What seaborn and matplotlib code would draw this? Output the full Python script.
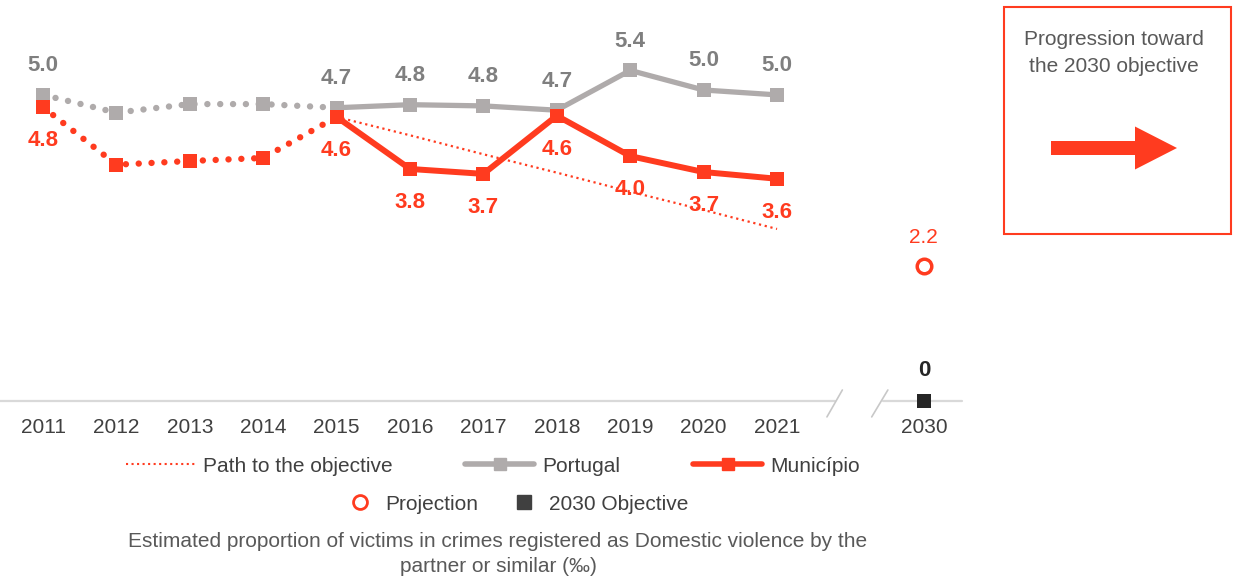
import numpy as np
import pandas as pd
import seaborn as sns
import matplotlib.pyplot as plt
from matplotlib.lines import Line2D
from matplotlib.patches import Rectangle, FancyArrow

# data
years = ['2011', '2012', '2013', '2014', '2015', '2016',
         '2017', '2018', '2019', '2020', '2021']
portugal = [5.0, 4.71, 4.85, 4.85, 4.79, 4.84, 4.82, 4.75, 5.4, 5.08, 5.0]
municipio = [4.8, 3.86, 3.92, 3.97, 4.64, 3.79, 3.71, 4.66, 4.0, 3.74, 3.63]
portugal_labels = ['5.0', '', '', '', '4.7', '4.8', '4.8', '4.7', '5.4', '5.0', '5.0']
municipio_labels = ['4.8', '', '', '', '4.6', '3.8', '3.7', '4.6', '4.0', '3.7', '3.6']
path_years = ['2015', '2016', '2017', '2018', '2019', '2020', '2021']
path_values = [4.64, 4.34, 4.03, 3.73, 3.42, 3.12, 2.81]
target_year = '2030'
projection = 2.2
objective = 0

RED = '#FF3B1F'
GRAY = '#AFABAB'
LABEL_GRAY = '#7F7F7F'
DARK = '#262626'
TEXT = '#404040'

sns.set_theme(style='white')
plt.rcParams['font.family'] = ['Liberation Sans', 'DejaVu Sans']

fig = plt.figure(figsize=(12.35, 5.79), dpi=100)
ax = fig.add_axes([0, 1 - 401 / 579, 962 / 1235, 401 / 579])

pos = {y: i for i, y in enumerate(years)}
pos[target_year] = len(years) + 1
x = np.array([pos[y] for y in years])
split = years.index('2015')

df = pd.DataFrame({'x': x, 'portugal': portugal, 'municipio': municipio})
dots = (0, (0.01, 2.0))

# Portugal: dotted until 2015, solid afterwards
sns.lineplot(data=df.iloc[:split + 1], x='x', y='portugal', ax=ax, color=GRAY,
             lw=4.6, linestyle=dots, dash_capstyle='round')
sns.lineplot(data=df.iloc[split:], x='x', y='portugal', ax=ax, color=GRAY, lw=3.8)
sns.scatterplot(data=df, x='x', y='portugal', ax=ax, color=GRAY, marker='s',
                s=95, linewidth=0, zorder=3)

# path to the objective
px = [pos[y] for y in path_years]
sns.lineplot(x=px, y=path_values, ax=ax, color=RED, lw=1.6, linestyle=':')

# Municipio
sns.lineplot(data=df.iloc[:split + 1], x='x', y='municipio', ax=ax, color=RED,
             lw=4.6, linestyle=dots, dash_capstyle='round')
sns.lineplot(data=df.iloc[split:], x='x', y='municipio', ax=ax, color=RED, lw=4.3)
sns.scatterplot(data=df, x='x', y='municipio', ax=ax, color=RED, marker='s',
                s=95, linewidth=0, zorder=4)

for xi, v, lab in zip(x, portugal, portugal_labels):
    if lab:
        ax.annotate(lab, (xi, v), xytext=(0, 21), textcoords='offset points',
                    ha='center', va='center', fontsize=16, fontweight='bold',
                    color=LABEL_GRAY)
for xi, v, lab in zip(x, municipio, municipio_labels):
    if lab:
        ax.annotate(lab, (xi, v), xytext=(0, -24), textcoords='offset points',
                    ha='center', va='center', fontsize=16, fontweight='bold',
                    color=RED)

# 2030 points
tx = pos[target_year]
ax.scatter([tx], [projection], marker='o', s=110, facecolor='white',
           edgecolor=RED, linewidth=2.5, zorder=5)
ax.annotate(f'{projection:.1f}', (tx, projection), xytext=(0, 21),
            textcoords='offset points', ha='center', va='center',
            fontsize=15, color=RED)
ax.scatter([tx], [objective], marker='s', s=95, color=DARK, linewidth=0,
           zorder=5, clip_on=False)
ax.annotate(f'{objective}', (tx, objective), xytext=(0, 22),
            textcoords='offset points', ha='center', va='center',
            fontsize=16, fontweight='bold', color=DARK)

# axis with break
ax.set_xlim(-0.586, 12.52)
ax.set_ylim(0, 6.55)
ax.plot([-0.586, 10.79], [0, 0], color='#D9D9D9', lw=1.6, zorder=1, clip_on=False)
ax.plot([11.44, 12.52], [0, 0], color='#D9D9D9', lw=1.6, zorder=1, clip_on=False)
ax.plot([10.68, 10.89], [-0.26, 0.18], color='#C8C8C8', lw=1.2, clip_on=False)
ax.plot([11.29, 11.51], [-0.26, 0.18], color='#C8C8C8', lw=1.2, clip_on=False)

ax.set_xticks(list(x) + [tx])
ax.set_xticklabels(years + [target_year])
ax.tick_params(axis='x', length=0, pad=12, labelsize=15, labelcolor=TEXT)
ax.set_yticks([])
ax.set_xlabel('')
ax.set_ylabel('')
sns.despine(ax=ax, left=True, bottom=True)
ax.patch.set_alpha(0)

# overlay in pixel units for box, legend and caption
ov = fig.add_axes([0, 0, 1, 1])
ov.set_xlim(0, 1235)
ov.set_ylim(579, 0)
ov.axis('off')
ov.patch.set_alpha(0)

ov.add_patch(Rectangle((1004, 7), 227, 227, fill=False, ec=RED, lw=1.5))
ov.text(1114, 53, 'Progression toward\nthe 2030 objective', ha='center',
        va='center', fontsize=15, color='#595959', linespacing=1.5)
ov.add_patch(FancyArrow(1051, 148, 126, 0, width=14, head_width=43,
                        head_length=42, length_includes_head=True,
                        color=RED, lw=0))

h1 = Line2D([], [], color=RED, lw=1.5, linestyle=':')
h2 = Line2D([], [], color=GRAY, lw=4, marker='s', markersize=8)
h3 = Line2D([], [], color=RED, lw=4, marker='s', markersize=8)
leg1 = ov.legend([h1, h2, h3], ['Path to the objective', 'Portugal', 'Município'],
                 loc='center', bbox_to_anchor=(493, 466),
                 bbox_transform=ov.transData, ncol=3, frameon=False,
                 fontsize=15, handlelength=3.3, handletextpad=0.4,
                 columnspacing=3.5, labelcolor=TEXT)
ov.add_artist(leg1)
h4 = Line2D([], [], marker='o', ls='none', mfc='white', mec=RED, ms=10, mew=2)
h5 = Line2D([], [], marker='s', ls='none', color=TEXT, ms=10)
ov.legend([h4, h5], ['Projection', '2030 Objective'], loc='center',
          bbox_to_anchor=(518, 504), bbox_transform=ov.transData, ncol=2,
          frameon=False, fontsize=15, handlelength=1.2, handletextpad=0.6,
          columnspacing=1.6, labelcolor=TEXT)

ov.text(498, 554, 'Estimated proportion of victims in crimes registered as '
        'Domestic violence by the\npartner or similar (‰)', ha='center',
        va='center', fontsize=15, color='#595959', linespacing=1.35)

fig.savefig('out.png', dpi=100)
